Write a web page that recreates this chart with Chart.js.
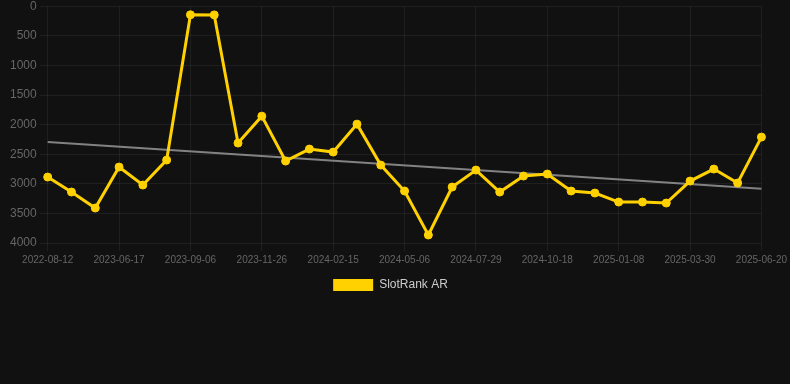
<!DOCTYPE html>
<html>
<head>
<meta charset="utf-8">
<script src="https://cdn.jsdelivr.net/npm/chart.js@4"></script>
<style>
    html, body { margin: 0; padding: 0; background: #111111; overflow: hidden; }
    #wrap { width: 790px; height: 388px; position: relative; top: -4px; }
</style>
</head>
<body>
<div id="wrap"><canvas id="rankChart"></canvas></div>
<script>
// SlotRank AR history (lower rank = better, axis is reversed)

const dates = [
    '2022-08-12', '2023-04-24', '2023-05-21', '2023-06-17', '2023-07-14', '2023-08-10',
    '2023-09-06', '2023-10-03', '2023-10-30', '2023-11-26', '2023-12-23', '2024-01-19',
    '2024-02-15', '2024-03-13', '2024-04-09', '2024-05-06', '2024-06-02', '2024-07-02',
    '2024-07-29', '2024-08-25', '2024-09-21', '2024-10-18', '2024-11-14', '2024-12-11',
    '2025-01-08', '2025-02-04', '2025-03-03', '2025-03-30', '2025-04-26', '2025-05-23',
    '2025-06-20'
];

const rankValues = [
    2886, 3139, 3409, 2717, 3021, 2599,
    145, 147, 2312, 1857, 2616, 2413,
    2464, 1992, 2684, 3122, 3865, 3055,
    2768, 3139, 2869, 2835, 3122, 3156,
    3308, 3308, 3325, 2954, 2751, 2987,
    2211
];

// trend line: only the two ends, gap spanned
const trendValues = [2295].concat(new Array(29).fill(null), [3084]);

const yTicks = [0, 500, 1000, 1500, 2000, 2500, 3000, 3500, 4000];

const gridColor = 'rgba(255, 255, 255, 0.06)';

const ctx = document.getElementById('rankChart').getContext('2d');

const rankChart = new Chart(ctx, {
    type: 'line',
    data: {
        labels: dates,
        datasets: [{
            label: 'SlotRank AR',
            data: rankValues,
            borderColor: '#FFD100',
            backgroundColor: '#FFD100',
            pointBackgroundColor: '#FFD100',
            pointBorderColor: '#FFD100',
            borderWidth: 3,
            pointRadius: 4,
            pointBorderWidth: 1,
            tension: 0,
            fill: false,
            order: 1
        }, {
            label: 'trend',
            data: trendValues,
            borderColor: 'rgba(150, 150, 150, 0.85)',
            borderWidth: 2,
            pointRadius: 0,
            spanGaps: true,
            fill: false,
            order: 2
        }]
    },
    options: {
        responsive: true,
        maintainAspectRatio: false,
        animation: false,
        layout: {
            padding: { left: 7, right: 16, top: 0, bottom: 83 }
        },
        scales: {
            y: {
                reverse: true,
                min: 0,
                max: 4000,
                afterBuildTicks: axis => {
                    axis.ticks = yTicks.map(v => ({ value: v }));
                },
                grid: { color: gridColor },
                border: { display: false },
                ticks: {
                    color: '#666666',
                    font: { family: 'Liberation Sans', size: 12 },
                    callback: v => String(v)
                }
            },
            x: {
                grid: {
                    color: c => (c.index % 3 === 0 ? gridColor : 'rgba(0, 0, 0, 0)')
                },
                border: { display: false },
                ticks: {
                    color: '#666666',
                    autoSkip: false,
                    maxRotation: 0,
                    font: { family: 'Liberation Sans', size: 10 },
                    callback: function(val, index) {
                        return index % 3 === 0 ? this.getLabelForValue(val) : '';
                    }
                }
            }
        },
        plugins: {
            legend: {
                position: 'bottom',
                labels: {
                    color: '#cccccc',
                    boxWidth: 40,
                    boxHeight: 12,
                    font: { family: 'Liberation Sans', size: 12 },
                    generateLabels: chart => {
                        const items = Chart.defaults.plugins.legend.labels.generateLabels(chart);
                        return items
                            .filter(item => item.text === 'SlotRank AR')
                            .map(item => Object.assign(item, { lineWidth: 0 }));
                    }
                }
            },
            tooltip: { enabled: false }
        }
    }
});
</script>
</body>
</html>
